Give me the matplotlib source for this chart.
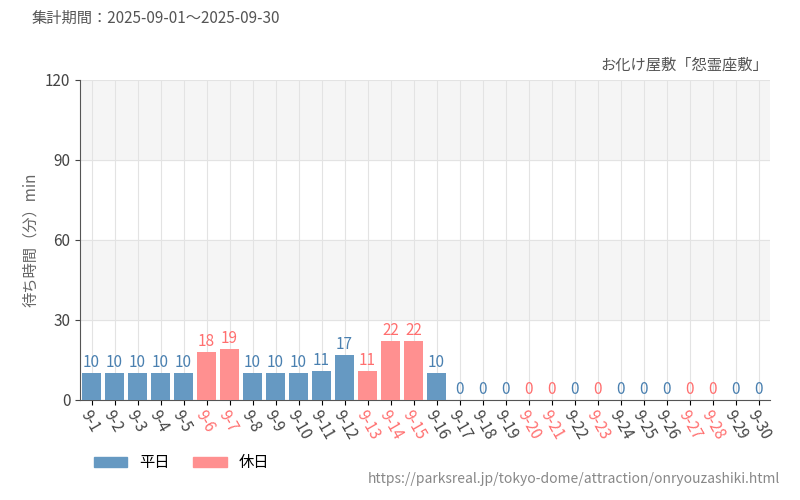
import matplotlib
matplotlib.use("Agg")
import matplotlib.pyplot as plt
from matplotlib.patches import Patch

plt.rcParams["font.family"] = ["Noto Sans CJK JP", "DejaVu Sans"]

# ── data ──────────────────────────────────────────────────────────────────────
DAYS = [f"9-{d}" for d in range(1, 31)]
WAIT = [10, 10, 10, 10, 10, 18, 19, 10, 10, 10, 11, 17, 11, 22, 22, 10,
        0, 0, 0, 0, 0, 0, 0, 0, 0, 0, 0, 0, 0, 0]
HOLIDAYS = [6, 7, 13, 14, 15, 20, 21, 23, 27, 28]

C_WD = "#6699c2"
C_HD = "#ff9090"
C_WD_TXT = "#4a80b0"
C_HD_TXT = "#ff6f6f"

fig = plt.figure(figsize=(8, 5), dpi=100)
ax = fig.add_axes([0.1, 0.2, 0.8625, 0.64])

hol = [int(d.split("-")[1]) in HOLIDAYS for d in DAYS]
x = list(range(len(DAYS)))
ax.bar(x, WAIT, width=0.8, color=[C_HD if h else C_WD for h in hol], zorder=3)
for xi, v, h in zip(x, WAIT, hol):
    ax.text(xi, v + 0.8, str(v), ha="center", va="bottom", fontsize=11,
            color=C_HD_TXT if h else C_WD_TXT, fontstretch="condensed", zorder=4)

ax.set_xlim(-0.5, len(DAYS) - 0.5)
ax.set_ylim(0, 120)
ax.set_yticks([0, 30, 60, 90, 120])
for lo in (30, 90):
    ax.axhspan(lo, lo + 30, color="#f5f5f5", zorder=0)
ax.grid(True, color="#e3e3e3", linewidth=0.8, zorder=1)
ax.set_xticks(x)
ax.set_xticklabels(DAYS, rotation=-60, ha="left", va="top", rotation_mode="anchor", fontsize=11)
for lbl, h in zip(ax.get_xticklabels(), hol):
    lbl.set_color(C_HD_TXT if h else "#444444")
ax.tick_params(axis="y", labelsize=11, colors="#444444")
ax.tick_params(axis="x", pad=2)
for s in ("top", "right"):
    ax.spines[s].set_visible(False)
ax.spines["left"].set_color("#555555")
ax.spines["bottom"].set_color("#555555")
ax.set_ylabel("待ち時間（分）min", fontsize=11, color="#666666")

fig.text(0.04, 0.955, "集計期間：2025-09-01～2025-09-30", fontsize=11, color="#555555")
fig.text(0.96, 0.86, "お化け屋敷「怨霊座敷」", fontsize=11, color="#555555", ha="right")
fig.text(0.975, 0.035, "https://parksreal.jp/tokyo-dome/attraction/onryouzashiki.html",
         fontsize=10, color="#888888", ha="right")
fig.legend(handles=[Patch(color=C_WD, label="平日"), Patch(color=C_HD, label="休日")],
           loc="lower left", bbox_to_anchor=(0.1, 0.03), ncol=2, frameon=False,
           fontsize=11, handlelength=2.2, columnspacing=1.5)

fig.savefig("out.png")
